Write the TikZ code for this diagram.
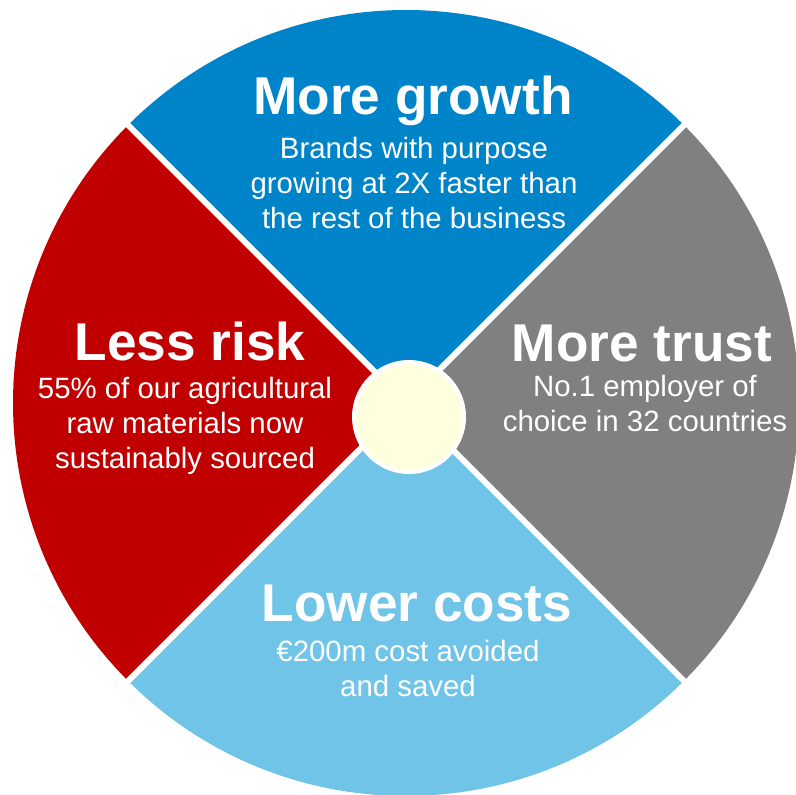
\documentclass[tikz,border=0pt]{standalone}
\usepackage{fontspec}
\setmainfont{Liberation Sans}
\definecolor{growthblue}{RGB}{0,132,201}
\definecolor{riskred}{RGB}{192,0,0}
\definecolor{trustgray}{RGB}{128,128,128}
\definecolor{costblue}{RGB}{112,196,232}
\definecolor{hubcream}{RGB}{255,255,221}
\tikzset{
  headline/.style={text=white, anchor=base, inner sep=0pt,
    font=\fontsize{26.6}{31}\selectfont\bfseries},
  blurb/.style={text=white, anchor=north, inner sep=0pt, align=center,
    font=\fontsize{14.7}{17.5}\selectfont},
  gap/.style={white, line width=3pt}
}
\begin{document}
\begin{tikzpicture}[x=0.5pt,y=0.5pt]
      \useasboundingbox (0,0) rectangle (796,794);
      \coordinate (c) at (406,391);
      % the four quarters
      \fill[growthblue] (c) -- ++(45:393) arc (45:135:393) -- cycle;
      \fill[riskred] (c) -- ++(135:393) arc (135:225:393) -- cycle;
      \fill[costblue] (c) -- ++(225:393) arc (225:315:393) -- cycle;
      \fill[trustgray] (c) -- ++(-45:393) arc (-45:45:393) -- cycle;
      \begin{scope}[gap]
        \draw (c) -- ++(45:400);
        \draw (c) -- ++(135:400);
        \draw (c) -- ++(225:400);
        \draw (c) -- ++(315:400);
      \end{scope}
      \node[circle, fill=hubcream, draw=white, line width=2pt,
        minimum size=55pt, inner sep=0pt] (hub) at (409,377) {};
      % texts
      \node[headline] (growth) at (413,679) {More growth};
      \node[blurb] (growthtext) at (414,657)
        {Brands with purpose\\growing at 2X faster than\\the rest of the business};
      \node[headline] (risk) at (190,434) {Less risk};
      \node[blurb] (risktext) at (185,417)
        {55\% of our agricultural\\raw materials now\\sustainably sourced};
      \node[headline] (trust) at (642,433) {More trust};
      \node[blurb] (trusttext) at (645,419)
        {No.1 employer of\\choice in 32 countries};
      \node[headline] (costs) at (417,173) {Lower costs};
      \node[blurb] (coststext) at (408,154)
        {€200m cost avoided\\and saved};
    \end{tikzpicture}
\end{document}
